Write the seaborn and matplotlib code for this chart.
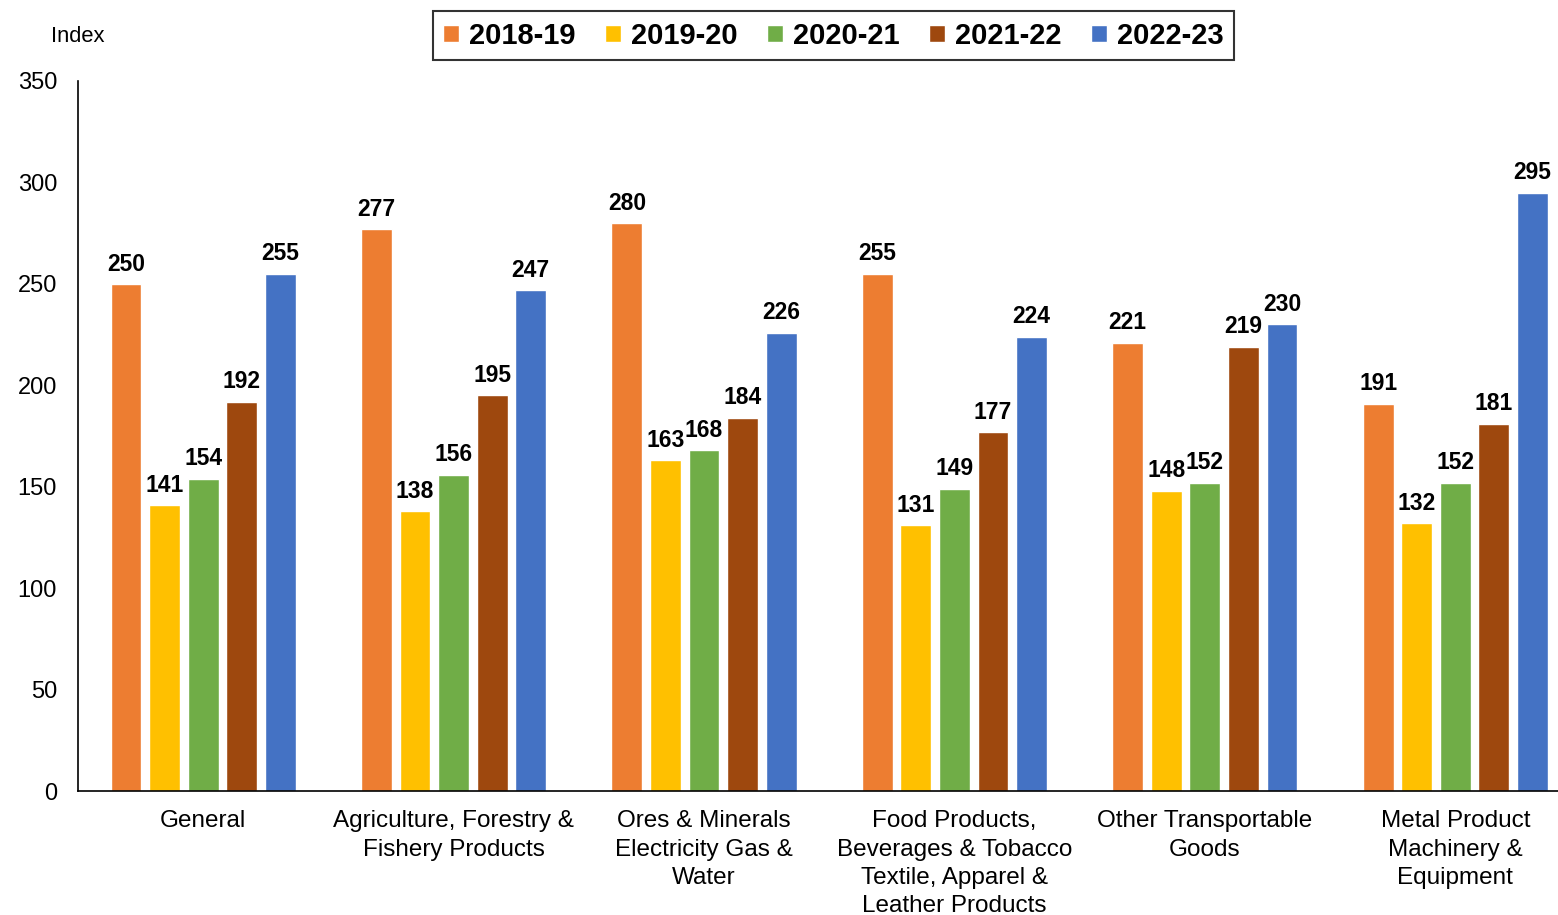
import matplotlib
matplotlib.use("Agg")
import matplotlib.pyplot as plt
import seaborn as sns
import pandas as pd
from matplotlib.patches import Patch

categories = ["General", "Agriculture, Forestry &\nFishery Products",
              "Ores & Minerals\nElectricity Gas &\nWater",
              "Food Products,\nBeverages & Tobacco\nTextile, Apparel &\nLeather Products",
              "Other Transportable\nGoods", "Metal Product\nMachinery &\nEquipment"]
years = ["2018-19", "2019-20", "2020-21", "2021-22", "2022-23"]
v2018 = [250, 277, 280, 255, 221, 191]
v2019 = [141, 138, 163, 131, 148, 132]
v2020 = [154, 156, 168, 149, 152, 152]
v2021 = [192, 195, 184, 177, 219, 181]
v2022 = [255, 247, 226, 224, 230, 295]
colors = ["#ED7D31", "#FFC000", "#70AD47", "#9E480E", "#4472C4"]

series = [v2018, v2019, v2020, v2021, v2022]
rows = []
for y, vals in zip(years, series):
    for c, v in zip(categories, vals):
        rows.append({"cat": c, "year": y, "val": v})
df = pd.DataFrame(rows)

sns.set_style("white")
plt.rcParams['font.family'] = ['Liberation Sans', 'DejaVu Sans']
plt.rcParams['text.color'] = 'black'
plt.rcParams['axes.labelcolor'] = 'black'
plt.rcParams['xtick.color'] = 'black'
plt.rcParams['ytick.color'] = 'black'

fig = plt.figure(figsize=(15.58, 9.15), dpi=100)
ax = fig.add_axes([0.050, 0.1355, 0.950, 0.776])
sns.barplot(data=df, x="cat", y="val", hue="year", order=categories, hue_order=years,
            palette=colors, width=0.77, gap=0.2, ax=ax, legend=False, saturation=1)

for cont in ax.containers:
    ax.bar_label(cont, labels=[f"{int(v)}" for v in cont.datavalues], padding=6,
                 fontsize=16.5, fontweight="bold", color="black")

ax.set_ylim(0, 350)
ax.set_xlim(-0.5, 5.41)
ax.set_yticks(range(0, 351, 50))
ax.tick_params(axis='y', labelsize=17, length=0, pad=15)
ax.tick_params(axis='x', labelsize=17.5, length=0, pad=14)
ax.set_xlabel("")
ax.set_ylabel("")
for s in ["top", "right"]:
    ax.spines[s].set_visible(False)
for s in ["left", "bottom"]:
    ax.spines[s].set_color("black")
    ax.spines[s].set_linewidth(1.2)
for lbl in ax.get_xticklabels():
    lbl.set_linespacing(1.36)

fig.text(0.033, 0.96, "Index", fontsize=15.8, va="center", ha="left")

handles = [Patch(facecolor=c, label=y) for c, y in zip(colors, years)]
leg = fig.legend(handles=handles, loc="center", bbox_to_anchor=(0.535, 0.961), ncol=5,
                 frameon=True, fancybox=False, edgecolor="black",
                 prop={"family": ["Liberation Sans"], "weight": "bold", "size": 21},
                 handlelength=0.55, handleheight=0.55, handletextpad=0.35, columnspacing=1.0,
                 borderpad=0.35, borderaxespad=0)
leg.get_frame().set_linewidth(1.5)

fig.savefig("out.png", dpi=100)
